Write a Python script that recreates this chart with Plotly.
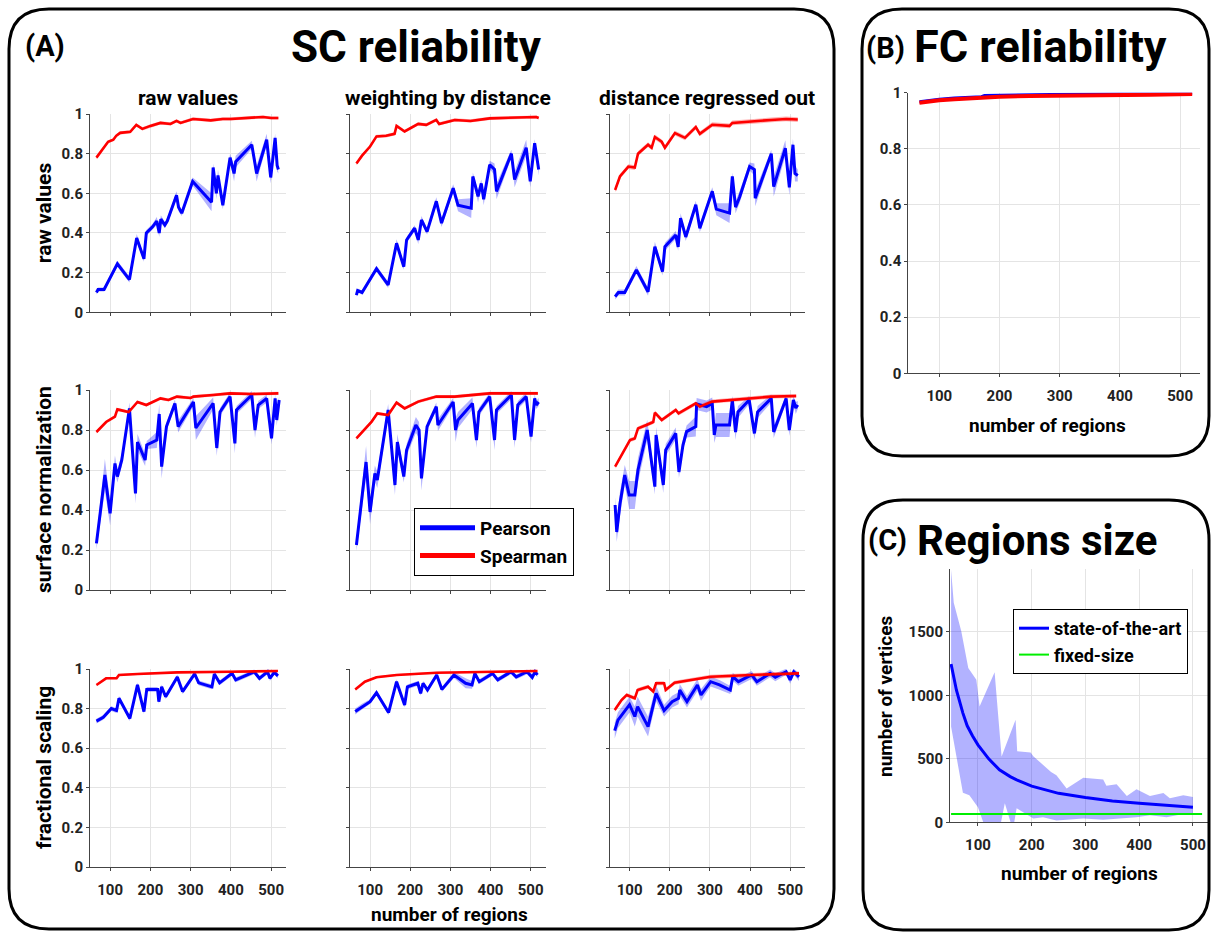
import plotly.graph_objects as go
import numpy as np

W, H = 1211, 933

REGION_TICKS = [100, 200, 300, 400, 500]
R_TICKS = [0, 0.2, 0.4, 0.6, 0.8, 1]
R_TICKTEXT = ['0', '0.2', '0.4', '0.6', '0.8', '1']
V_TICKS = [0, 500, 1000, 1500]
COL_TITLES = ['raw values', 'weighting by distance', 'distance regressed out']
ROW_TITLES = ['raw values', 'surface normalization', 'fractional scaling']

# ---------------- Panel A data (row = SC normalisation, col = distance treatment)
# row 1, col 1
p_x_11 = [66, 70, 85, 118, 148, 166, 184, 190, 205, 216, 222, 226, 236, 242, 265, 270, 278, 305, 352, 356,
          364, 368, 380, 398, 408, 412, 452, 464, 489, 499, 510, 515, 518]
p_y_11 = [0.10, 0.115, 0.115, 0.245, 0.165, 0.375, 0.27, 0.40, 0.43, 0.46, 0.40, 0.47, 0.44, 0.46, 0.59, 0.53,
          0.50, 0.66, 0.555, 0.73, 0.60, 0.69, 0.54, 0.78, 0.70, 0.76, 0.845, 0.70, 0.87, 0.68, 0.88, 0.74, 0.72]
p_s_11 = [0.01, 0.01, 0.01, 0.015, 0.015, 0.02, 0.015, 0.015, 0.015, 0.02, 0.02, 0.02, 0.015, 0.015, 0.02, 0.02,
          0.015, 0.02, 0.045, 0.02, 0.03, 0.03, 0.02, 0.02, 0.04, 0.03, 0.02, 0.04, 0.03, 0.03, 0.02, 0.03, 0.02]
s_x_11 = [66, 80, 95, 108, 115, 125, 150, 165, 180, 200, 225, 250, 265, 275, 306, 350, 380, 400, 450, 480, 500, 518]
s_y_11 = [0.78, 0.82, 0.86, 0.87, 0.89, 0.905, 0.91, 0.945, 0.925, 0.94, 0.955, 0.95, 0.965, 0.955, 0.975, 0.968,
          0.975, 0.975, 0.98, 0.985, 0.98, 0.98]
# row 1, col 2
p_x_12 = [66, 69, 80, 116, 145, 166, 184, 191, 211, 220, 228, 242, 265, 278, 307, 319, 352, 356, 369, 377,
          383, 398, 410, 415, 452, 460, 489, 499, 510, 520]
p_y_12 = [0.087, 0.11, 0.10, 0.22, 0.138, 0.348, 0.23, 0.365, 0.424, 0.365, 0.466, 0.407, 0.56, 0.45, 0.626,
          0.54, 0.525, 0.685, 0.584, 0.65, 0.57, 0.744, 0.72, 0.61, 0.80, 0.67, 0.83, 0.66, 0.853, 0.72]
p_s_12 = [0.01, 0.01, 0.01, 0.015, 0.015, 0.02, 0.015, 0.015, 0.015, 0.02, 0.02, 0.015, 0.02, 0.02, 0.02,
          0.03, 0.05, 0.02, 0.03, 0.02, 0.03, 0.02, 0.03, 0.04, 0.02, 0.04, 0.04, 0.03, 0.02, 0.03]
s_x_12 = [66, 80, 100, 116, 140, 161, 166, 186, 220, 240, 265, 272, 311, 350, 398, 450, 514, 520]
s_y_12 = [0.75, 0.79, 0.836, 0.887, 0.89, 0.90, 0.94, 0.912, 0.95, 0.945, 0.97, 0.95, 0.97, 0.965, 0.978,
          0.98, 0.985, 0.98]
# row 1, col 3
p_x_13 = [64, 72, 88, 117, 146, 163, 182, 188, 215, 221, 227, 240, 265, 275, 306, 316, 349, 356, 364, 374,
          399, 411, 413, 453, 459, 488, 498, 507, 512, 519]
p_y_13 = [0.079, 0.10, 0.10, 0.214, 0.104, 0.331, 0.205, 0.331, 0.39, 0.33, 0.475, 0.38, 0.542, 0.424, 0.61,
          0.52, 0.50, 0.685, 0.53, 0.58, 0.735, 0.72, 0.575, 0.80, 0.634, 0.828, 0.63, 0.845, 0.70, 0.69]
p_s_13 = [0.015, 0.015, 0.015, 0.02, 0.02, 0.025, 0.02, 0.02, 0.02, 0.02, 0.025, 0.02, 0.02, 0.02, 0.02,
          0.03, 0.05, 0.02, 0.03, 0.03, 0.02, 0.03, 0.04, 0.02, 0.05, 0.04, 0.04, 0.03, 0.04, 0.03]
s_x_13 = [64, 76, 97, 113, 121, 146, 155, 163, 180, 188, 213, 238, 265, 275, 306, 349, 356, 399, 453, 490, 519]
s_y_13 = [0.617, 0.685, 0.735, 0.73, 0.80, 0.845, 0.83, 0.884, 0.86, 0.83, 0.904, 0.88, 0.934, 0.90, 0.946,
          0.94, 0.955, 0.963, 0.97, 0.975, 0.972]
# row 2, col 1
p_x_21 = [66, 87, 100, 112, 118, 129, 148, 163, 168, 187, 191, 216, 222, 228, 240, 261, 269, 307, 313, 356,
          365, 373, 398, 410, 414, 452, 460, 468, 489, 501, 510, 514, 520]
p_y_21 = [0.233, 0.575, 0.383, 0.633, 0.567, 0.65, 0.908, 0.483, 0.74, 0.65, 0.725, 0.75, 0.88, 0.617, 0.817,
          0.933, 0.817, 0.94, 0.81, 0.933, 0.71, 0.89, 0.967, 0.733, 0.90, 0.975, 0.80, 0.925, 0.958, 0.758,
          0.958, 0.85, 0.95]
p_s_21 = [0.03, 0.08, 0.06, 0.04, 0.03, 0.03, 0.03, 0.05, 0.04, 0.03, 0.02, 0.04, 0.05, 0.06, 0.02, 0.02,
          0.03, 0.02, 0.06, 0.03, 0.04, 0.02, 0.02, 0.05, 0.02, 0.02, 0.04, 0.02, 0.02, 0.03, 0.02, 0.03, 0.02]
s_x_21 = [66, 90, 112, 118, 146, 168, 190, 225, 245, 266, 300, 307, 356, 398, 450, 518]
s_y_21 = [0.79, 0.84, 0.867, 0.903, 0.89, 0.94, 0.925, 0.958, 0.95, 0.967, 0.96, 0.967, 0.975, 0.983, 0.98, 0.983]
# row 2, col 2
p_x_22 = [66, 90, 100, 112, 118, 145, 162, 168, 184, 191, 214, 222, 228, 242, 265, 269, 307, 313, 319, 355,
          365, 371, 398, 410, 415, 452, 460, 468, 489, 501, 510, 514, 520]
p_y_22 = [0.225, 0.64, 0.39, 0.583, 0.55, 0.90, 0.525, 0.74, 0.567, 0.70, 0.825, 0.80, 0.558, 0.817, 0.917,
          0.825, 0.94, 0.80, 0.85, 0.933, 0.75, 0.89, 0.967, 0.75, 0.90, 0.975, 0.75, 0.925, 0.967, 0.767,
          0.958, 0.925, 0.94]
p_s_22 = [0.03, 0.08, 0.06, 0.04, 0.04, 0.03, 0.05, 0.04, 0.03, 0.03, 0.04, 0.04, 0.06, 0.02, 0.02, 0.03,
          0.02, 0.06, 0.04, 0.03, 0.04, 0.02, 0.02, 0.05, 0.02, 0.02, 0.04, 0.02, 0.02, 0.03, 0.02, 0.02, 0.02]
s_x_22 = [66, 104, 118, 145, 166, 186, 220, 265, 311, 356, 398, 518]
s_y_22 = [0.758, 0.842, 0.883, 0.875, 0.937, 0.908, 0.942, 0.967, 0.967, 0.975, 0.983, 0.983]
# row 2, col 3
p_x_23 = [64, 68, 76, 88, 99, 113, 121, 144, 163, 166, 184, 190, 215, 223, 233, 242, 265, 267, 292, 306,
          311, 315, 349, 356, 364, 370, 398, 411, 419, 453, 459, 490, 498, 508, 514, 519]
p_y_23 = [0.425, 0.29, 0.43, 0.575, 0.475, 0.475, 0.60, 0.80, 0.517, 0.775, 0.525, 0.70, 0.783, 0.59, 0.725,
          0.792, 0.817, 0.93, 0.917, 0.933, 0.775, 0.825, 0.825, 0.95, 0.79, 0.89, 0.95, 0.783, 0.89, 0.958,
          0.79, 0.958, 0.80, 0.95, 0.91, 0.925]
p_s_23 = [0.04, 0.05, 0.06, 0.05, 0.07, 0.07, 0.06, 0.05, 0.04, 0.04, 0.04, 0.03, 0.03, 0.03, 0.03, 0.03,
          0.05, 0.03, 0.03, 0.03, 0.04, 0.06, 0.06, 0.02, 0.04, 0.03, 0.02, 0.03, 0.03, 0.02, 0.03, 0.02,
          0.03, 0.02, 0.03, 0.02]
s_x_23 = [64, 84, 101, 113, 121, 142, 159, 163, 180, 215, 222, 265, 275, 306, 353, 399, 453, 515]
s_y_23 = [0.617, 0.69, 0.75, 0.758, 0.808, 0.825, 0.84, 0.887, 0.85, 0.90, 0.883, 0.933, 0.917, 0.942, 0.95,
          0.958, 0.967, 0.97]
# row 3, col 1
p_x_31 = [66, 83, 103, 116, 122, 149, 168, 184, 191, 218, 221, 228, 238, 267, 280, 310, 320, 353, 359, 372,
          403, 412, 458, 471, 491, 497, 508, 517]
p_y_31 = [0.737, 0.756, 0.80, 0.79, 0.852, 0.75, 0.92, 0.785, 0.897, 0.897, 0.835, 0.91, 0.86, 0.96, 0.886,
          0.975, 0.93, 0.91, 0.975, 0.93, 0.978, 0.945, 0.986, 0.953, 0.986, 0.953, 0.983, 0.965]
p_s_31 = [0.012] * 28
s_x_31 = [66, 90, 116, 122, 168, 267, 400, 517]
s_y_31 = [0.919, 0.953, 0.953, 0.97, 0.975, 0.983, 0.986, 0.99]
# row 3, col 2
p_x_32 = [63, 80, 100, 116, 146, 166, 186, 193, 219, 226, 232, 243, 266, 279, 309, 338, 354, 361, 372, 405,
          418, 451, 464, 491, 504, 511, 517]
p_y_32 = [0.785, 0.81, 0.835, 0.88, 0.78, 0.936, 0.818, 0.91, 0.928, 0.877, 0.928, 0.894, 0.97, 0.897, 0.97,
          0.928, 0.92, 0.978, 0.936, 0.978, 0.945, 0.986, 0.96, 0.986, 0.958, 0.986, 0.97]
p_s_32 = [0.015, 0.015, 0.012, 0.012, 0.012, 0.012, 0.012, 0.012, 0.012, 0.012, 0.012, 0.012, 0.012, 0.012,
          0.015, 0.025, 0.02, 0.012, 0.012, 0.012, 0.012, 0.012, 0.012, 0.012, 0.015, 0.012, 0.012]
s_x_32 = [63, 87, 116, 166, 266, 400, 517]
s_y_32 = [0.897, 0.936, 0.958, 0.97, 0.981, 0.985, 0.99]
# row 3, col 3
p_x_33 = [63, 71, 100, 113, 120, 146, 166, 186, 206, 222, 225, 243, 269, 278, 302, 324, 351, 357, 371, 404,
          417, 450, 463, 490, 500, 509, 522]
p_y_33 = [0.689, 0.742, 0.82, 0.76, 0.81, 0.709, 0.877, 0.79, 0.835, 0.852, 0.894, 0.835, 0.919, 0.869, 0.936,
          0.92, 0.894, 0.961, 0.936, 0.97, 0.936, 0.978, 0.958, 0.986, 0.945, 0.986, 0.96]
p_s_33 = [0.04, 0.04, 0.04, 0.05, 0.05, 0.05, 0.04, 0.03, 0.03, 0.03, 0.03, 0.03, 0.03, 0.03, 0.025, 0.025,
          0.02, 0.02, 0.02, 0.02, 0.02, 0.02, 0.02, 0.015, 0.02, 0.015, 0.02]
s_x_33 = [63, 80, 93, 113, 120, 146, 159, 166, 186, 190, 212, 272, 302, 404, 522]
s_y_33 = [0.793, 0.843, 0.869, 0.852, 0.894, 0.91, 0.886, 0.928, 0.928, 0.894, 0.931, 0.953, 0.961, 0.97, 0.978]
s_spread = [0.008, 0.008, 0.012, 0.008, 0.008, 0.01, 0.005, 0.005, 0.01]

# ---------------- Panel B data (FC reliability)
fc_x = [67, 80, 100, 125, 150, 170, 175, 200, 250, 300, 350, 400, 450, 520]
fc_pearson = [0.968, 0.972, 0.977, 0.981, 0.985, 0.986, 0.99, 0.991, 0.993, 0.995, 0.996, 0.997, 0.998, 0.998]
fc_spearman = [0.964, 0.968, 0.973, 0.977, 0.981, 0.981, 0.985, 0.986, 0.988, 0.990, 0.991, 0.992, 0.993, 0.995]

# ---------------- Panel C data (regions size)
size_x = [50, 60, 72, 80, 90, 100, 120, 140, 160, 172, 200, 250, 300, 350, 400, 450, 500]
size_mean = [1247, 1040, 860, 760, 680, 610, 500, 413, 360, 334, 285, 228, 195, 168, 150, 133, 118]
size_hi_x = [50, 55, 69, 82, 97, 103, 131, 144, 170, 173, 198, 203, 236, 246, 265, 296, 333, 339, 358, 377,
             395, 420, 445, 457, 482, 500]
size_hi = [1990, 1730, 1504, 1215, 1123, 912, 1181, 518, 807, 560, 550, 520, 397, 370, 266, 350, 337, 287,
           300, 208, 260, 208, 230, 190, 213, 200]
size_lo_x = [50, 72, 84, 100, 115, 140, 150, 165, 172, 203, 221, 246, 296, 333, 358, 395, 420, 451, 482, 500]
size_lo = [755, 232, 214, 118, -60, -60, 150, -60, 110, 30, 40, 15, 30, 20, 30, 40, 55, 40, 65, 60]
fixed_x = [50, 517]
fixed_size = [65, 65]

BLUE = '#0000ff'
RED = '#ff0000'
GREEN = '#00ee00'
BLUE_BAND = 'rgba(0,0,255,0.30)'
RED_BAND = 'rgba(255,0,0,0.30)'
FONT = 'Roboto'
AX_COLOR = '#444444'
GRID = '#e4e4e4'
TXT = '#222222'

p_x = [p_x_11, p_x_12, p_x_13, p_x_21, p_x_22, p_x_23, p_x_31, p_x_32, p_x_33]
p_y = [p_y_11, p_y_12, p_y_13, p_y_21, p_y_22, p_y_23, p_y_31, p_y_32, p_y_33]
p_s = [p_s_11, p_s_12, p_s_13, p_s_21, p_s_22, p_s_23, p_s_31, p_s_32, p_s_33]
s_x = [s_x_11, s_x_12, s_x_13, s_x_21, s_x_22, s_x_23, s_x_31, s_x_32, s_x_33]
s_y = [s_y_11, s_y_12, s_y_13, s_y_21, s_y_22, s_y_23, s_y_31, s_y_32, s_y_33]

fig = go.Figure()


def band(x, y, s, color, xa, ya):
    x = np.asarray(x, float)
    y = np.asarray(y, float)
    s = np.asarray(s, float) * np.ones_like(y)
    fig.add_trace(go.Scatter(x=np.concatenate([x, x[::-1]]), y=np.concatenate([y + s, (y - s)[::-1]]),
                             fill='toself', fillcolor=color, line=dict(width=0), mode='lines',
                             hoverinfo='skip', showlegend=False, xaxis=xa, yaxis=ya))


def axname(k):
    return ('x' if k == 1 else f'x{k}'), ('y' if k == 1 else f'y{k}')


def px_dom(a, b, total, flip=False):
    if flip:
        return [1 - b / total, 1 - a / total]
    return [a / total, b / total]


col_px = [(90, 286), (350, 545.5), (609.5, 805)]
row_px = [(114, 312.3), (390, 590), (669, 867)]

tickfont = dict(family=FONT, size=15, color=TXT, weight='bold')
common_x = dict(range=[50, 537], tickvals=REGION_TICKS, showgrid=True, gridcolor=GRID, gridwidth=1,
                showline=True, linecolor=AX_COLOR, linewidth=1, ticks='outside', ticklen=3,
                tickcolor=AX_COLOR, tickfont=tickfont, zeroline=False, fixedrange=True,
                ticklabelstandoff=6, automargin=False)
common_y = dict(range=[0, 1], tickvals=R_TICKS, ticktext=R_TICKTEXT, showgrid=True, gridcolor=GRID,
                gridwidth=1, showline=True, linecolor=AX_COLOR, linewidth=1, ticks='outside', ticklen=3,
                tickcolor=AX_COLOR, tickfont=tickfont, zeroline=False, fixedrange=True, automargin=False)

layout_axes = {}
for k in range(1, 10):
    r, c = (k - 1) // 3, (k - 1) % 3
    xa, ya = axname(k)
    band(p_x[k - 1], p_y[k - 1], p_s[k - 1], BLUE_BAND, xa, ya)
    band(s_x[k - 1], s_y[k - 1], s_spread[k - 1], RED_BAND, xa, ya)
    fig.add_trace(go.Scatter(x=p_x[k - 1], y=p_y[k - 1], mode='lines', line=dict(color=BLUE, width=3),
                             showlegend=False, xaxis=xa, yaxis=ya, name='Pearson'))
    fig.add_trace(go.Scatter(x=s_x[k - 1], y=s_y[k - 1], mode='lines', line=dict(color=RED, width=2.6),
                             showlegend=False, xaxis=xa, yaxis=ya, name='Spearman'))
    xk = 'xaxis' if k == 1 else f'xaxis{k}'
    yk = 'yaxis' if k == 1 else f'yaxis{k}'
    layout_axes[xk] = dict(common_x, domain=px_dom(*col_px[c], W), anchor=ya, showticklabels=(r == 2))
    layout_axes[yk] = dict(common_y, domain=px_dom(*row_px[r], H, flip=True), anchor=xa,
                           showticklabels=(c == 0))

# legend proxies for panel A
fig.add_trace(go.Scatter(x=[None], y=[None], mode='lines', line=dict(color=BLUE, width=5), name='Pearson',
                         legend='legend', xaxis='x5', yaxis='y5'))
fig.add_trace(go.Scatter(x=[None], y=[None], mode='lines', line=dict(color=RED, width=5), name='Spearman',
                         legend='legend', xaxis='x5', yaxis='y5'))

# Panel B
fig.add_trace(go.Scatter(x=fc_x, y=fc_pearson, mode='lines', line=dict(color=BLUE, width=3),
                         showlegend=False, xaxis='x10', yaxis='y10'))
band(fc_x, fc_spearman, 0.004, RED_BAND, 'x10', 'y10')
fig.add_trace(go.Scatter(x=fc_x, y=fc_spearman, mode='lines', line=dict(color=RED, width=4),
                         showlegend=False, xaxis='x10', yaxis='y10'))
layout_axes['xaxis10'] = dict(common_x, range=[48.5, 533], domain=px_dom(908.3, 1200, W), anchor='y10')
layout_axes['yaxis10'] = dict(common_y, domain=px_dom(92.7, 373.3, H, flip=True), anchor='x10')

# Panel C
fig.add_trace(go.Scatter(x=list(size_hi_x) + list(size_lo_x)[::-1], y=list(size_hi) + list(size_lo)[::-1],
                         fill='toself', fillcolor='rgba(0,0,255,0.30)', line=dict(width=0), mode='lines',
                         hoverinfo='skip', showlegend=False, xaxis='x11', yaxis='y11'))
fig.add_trace(go.Scatter(x=size_x, y=size_mean, mode='lines', line=dict(color=BLUE, width=3),
                         name='state-of-the-art', legend='legend2', xaxis='x11', yaxis='y11'))
fig.add_trace(go.Scatter(x=fixed_x, y=fixed_size, mode='lines', line=dict(color=GREEN, width=2),
                         name='fixed-size', legend='legend2', xaxis='x11', yaxis='y11'))
layout_axes['xaxis11'] = dict(common_x, range=[48, 528], domain=px_dom(950, 1208, W), anchor='y11')
layout_axes['yaxis11'] = dict(common_y, range=[0, 1995], tickvals=V_TICKS, ticktext=[str(v) for v in V_TICKS],
                              domain=px_dom(569, 822.3, H, flip=True), anchor='x11')


def ann(text, x, y, size, angle=0):
    return dict(text=text, x=x / W, y=1 - y / H, xref='paper', yref='paper', showarrow=False,
                xanchor='center', yanchor='middle', textangle=angle,
                font=dict(family=FONT, size=size, color='#000000', weight='bold'))


annotations = [
    ann('(A)', 45, 46, 29),
    ann('SC reliability', 416, 47, 44),
    ann('(B)', 886, 48, 29),
    ann('FC reliability', 1040, 47, 45),
    ann('(C)', 887, 540, 29),
    ann('Regions size', 1037, 540, 42),
    ann('number of regions', 450, 914, 19),
    ann('number of regions', 1047, 425, 19),
    ann('number of regions', 1079, 873, 19),
    ann('number of vertices', 885, 697, 19, -90),
]
for c, t in enumerate(COL_TITLES):
    annotations.append(ann(t, (col_px[c][0] + col_px[c][1]) / 2, 98, 21))
for r, t in enumerate(ROW_TITLES):
    annotations.append(ann(t, 44, (row_px[r][0] + row_px[r][1]) / 2, 21, -90))


def rbox(x0, y0, x1, y1, r):
    def P(x, y):
        return f"{x / W:.5f},{1 - y / H:.5f}"
    path = (f"M {P(x0 + r, y0)} L {P(x1 - r, y0)} Q {P(x1, y0)} {P(x1, y0 + r)} "
            f"L {P(x1, y1 - r)} Q {P(x1, y1)} {P(x1 - r, y1)} L {P(x0 + r, y1)} "
            f"Q {P(x0, y1)} {P(x0, y1 - r)} L {P(x0, y0 + r)} Q {P(x0, y0)} {P(x0 + r, y0)} Z")
    return dict(type='path', path=path, xref='paper', yref='paper', line=dict(color='black', width=3),
                fillcolor='rgba(0,0,0,0)', layer='above')


shapes = [rbox(9, 9, 834, 929, 40), rbox(862, 9, 1209, 456, 40), rbox(863, 500, 1209, 930, 40)]

legfont = dict(family=FONT, size=19, color='#000000', weight='bold')
fig.update_layout(
    width=W, height=H, autosize=False, margin=dict(l=0, r=0, t=0, b=0, pad=0, autoexpand=False),
    paper_bgcolor='white', plot_bgcolor='white',
    annotations=annotations, shapes=shapes,
    legend=dict(x=414 / W, y=1 - 508 / H, xanchor='left', yanchor='top', bgcolor='white',
                bordercolor='black', borderwidth=1, font=legfont, tracegroupgap=0, itemwidth=55),
    legend2=dict(x=1013 / W, y=1 - 609 / H, xanchor='left', yanchor='top', bgcolor='white',
                 bordercolor='black', borderwidth=1, font=dict(legfont, size=18), tracegroupgap=0),
    **layout_axes,
)

fig.write_html(
    "out.html",
    config={'displayModeBar': False},
    post_script=("document.body.style.margin='0px';document.body.style.padding='0px';"
                 "var d=document.getElementById('{plot_id}');d.style.position='fixed';"
                 "d.style.left='0px';d.style.top='0px';"),
)
